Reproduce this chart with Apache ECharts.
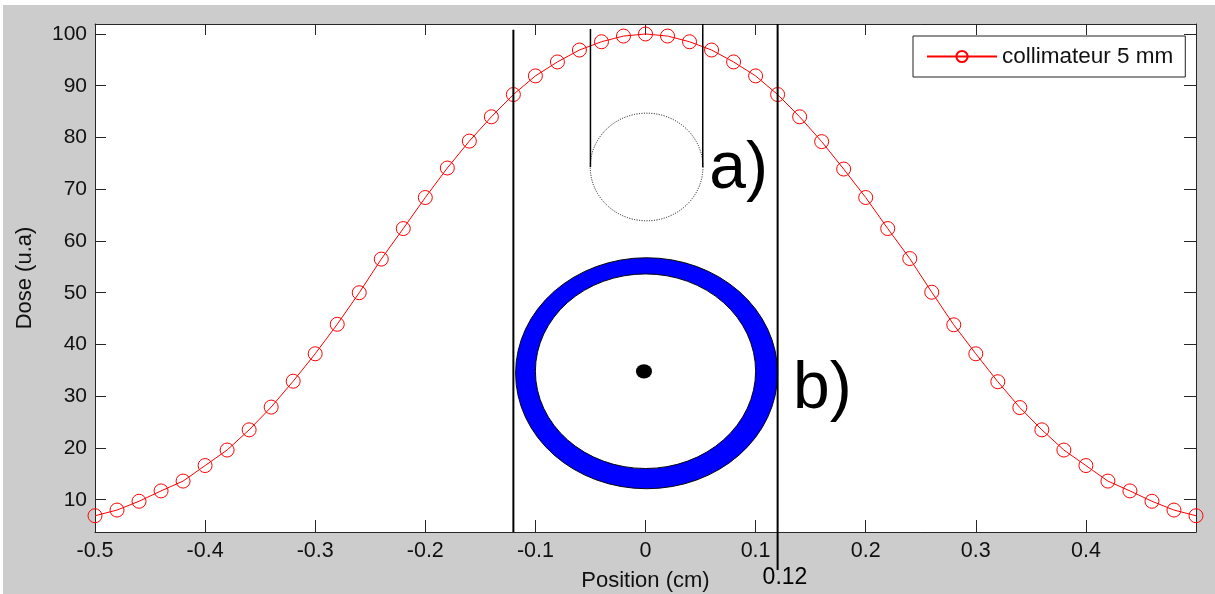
<!DOCTYPE html>
<html><head><meta charset="utf-8">
<script src="https://cdn.jsdelivr.net/npm/echarts@6/dist/echarts.min.js"></script>
<style>
html,body{margin:0;padding:0;background:#fff;}
#bg{position:absolute;left:3px;top:5px;width:1212px;height:589px;background:#cccccc;}
#chart{position:absolute;left:0;top:0;width:1215px;height:594px;}
</style>
</head><body><div id="bg"></div><div id="chart"></div>
<script>
// ---- data ----
const positions = [-0.5,-0.48,-0.46,-0.44,-0.42,-0.4,-0.38,-0.36,-0.34,-0.32,-0.3,-0.28,-0.26,-0.24,-0.22,-0.2,-0.18,-0.16,-0.14,-0.12,-0.1,-0.08,-0.06,-0.04,-0.02,
  0,
  0.02,0.04,0.06,0.08,0.1,0.12,0.14,0.16,0.18,0.2,0.22,0.24,0.26,0.28,0.3,0.32,0.34,0.36,0.38,0.4,0.42,0.44,0.46,0.48,0.5];
const doses = [6.9,8.0,9.7,11.7,13.6,16.6,19.6,23.5,27.9,32.9,38.2,43.9,50.0,56.5,62.4,68.4,74.1,79.3,84.0,88.3,91.9,94.6,96.9,98.5,99.6,
  100,
  99.6,98.5,96.9,94.6,91.9,88.3,84.0,79.2,73.9,68.4,62.4,56.6,50.1,43.8,38.2,32.8,27.8,23.5,19.6,16.6,13.6,11.7,9.7,8.0,6.9];
const xTicks = [-0.5,-0.4,-0.3,-0.2,-0.1,0,0.1,0.2,0.3,0.4];
const yTicks = [10,20,30,40,50,60,70,80,90,100];
const seriesName = 'collimateur 5 mm';
const xName = 'Position (cm)';
const yName = 'Dose (u.a)';
const xRange = [-0.5, 0.5];
const yRange = [3.76, 101.93];
const markedPos = 0.12;

const FONT = '"Liberation Sans", Arial, Helvetica, sans-serif';
const chart = echarts.init(document.getElementById('chart'), null, {renderer: 'canvas'});
const axisLine = {show: true, onZero: false, lineStyle: {color: '#262626', width: 1}};
const fmtX = v => (v === 0 ? '0' : String(Math.round(v * 10) / 10));

const option = {
  animation: false,
  backgroundColor: 'transparent',
  grid: {left: 95, top: 24, width: 1101, height: 508, show: true, backgroundColor: '#fff', borderWidth: 0,
         containLabel: false, outerBoundsMode: 'none'},
  legend: {
    show: true, left: 913, top: 36,
    padding: [9, 12, 9, 13],
    backgroundColor: '#fff', borderColor: '#222', borderWidth: 1,
    itemWidth: 70, itemHeight: 14,
    textStyle: {fontFamily: FONT, fontSize: 22.5, color: '#111'},
    data: [seriesName]
  },
  xAxis: [
    {type: 'value', position: 'bottom', min: xRange[0], max: xRange[1],
     name: xName, nameLocation: 'middle', nameGap: 38,
     nameTextStyle: {fontFamily: FONT, fontSize: 22, color: '#111'},
     axisLine: axisLine, splitLine: {show: false},
     axisTick: {show: true, inside: true, length: 12, customValues: xTicks, lineStyle: {color: '#262626'}},
     axisLabel: {show: true, customValues: xTicks, formatter: fmtX, margin: 8, fontFamily: FONT, fontSize: 21.5, color: '#111'}},
    {type: 'value', position: 'top', min: xRange[0], max: xRange[1],
     axisLine: axisLine, splitLine: {show: false},
     axisTick: {show: true, inside: true, length: 11, customValues: xTicks, lineStyle: {color: '#262626'}},
     axisLabel: {show: false}}
  ],
  yAxis: [
    {type: 'value', position: 'left', min: yRange[0], max: yRange[1],
     name: yName, nameLocation: 'middle', nameGap: 59, nameRotate: 90,
     nameTextStyle: {fontFamily: FONT, fontSize: 22, color: '#111'},
     axisLine: axisLine, splitLine: {show: false},
     axisTick: {show: true, inside: true, length: 11, customValues: yTicks, lineStyle: {color: '#262626'}},
     axisLabel: {show: true, customValues: yTicks, margin: 8, fontFamily: FONT, fontSize: 21, color: '#111'}},
    {type: 'value', position: 'right', min: yRange[0], max: yRange[1],
     axisLine: axisLine, splitLine: {show: false},
     axisTick: {show: true, inside: true, length: 12, customValues: yTicks, lineStyle: {color: '#262626'}},
     axisLabel: {show: false}}
  ],
  series: [{
    name: seriesName, type: 'line', xAxisIndex: 0, yAxisIndex: 0,
    data: positions.map((p, i) => [p, doses[i]]),
    symbol: 'circle', symbolSize: 14,
    lineStyle: {color: '#ff0000', width: 1},
    itemStyle: {color: 'rgba(255,255,255,0)', borderColor: '#ff0000', borderWidth: 1},
    emphasis: {disabled: true}, z: 5
  }]
};
chart.setOption(option);

// ---- annotations (in data units, converted through the axes) ----
const P = (x, y) => chart.convertToPixel({seriesIndex: 0}, [x, y]);
const pxX = dx => P(dx, 50)[0] - P(0, 50)[0];
const pxY = dy => P(0, 0)[1] - P(0, dy)[1];

function line(x1, y1, x2, y2, extra) {
  const a = P(x1, y1), b = P(x2, y2);
  return Object.assign({type: 'line', z: 10, shape: {x1: a[0], y1: a[1], x2: b[0], y2: b[1]},
    style: {stroke: '#000', lineWidth: 2}}, extra || {});
}
function ellipse(cx, cy, rx, ry, style, z) {
  const c = P(cx, cy), r = pxX(rx), s = pxY(ry) / r;
  return {type: 'circle', z: z, x: c[0], y: c[1], scaleY: s, shape: {cx: 0, cy: 0, r: r}, style: style};
}
const g = [];
g.push(line(-markedPos, 100.8, -markedPos, yRange[0]));
g.push(line(markedPos, yRange[1], markedPos, -3.6));
g.push(line(-0.05, 100.97, -0.05, 74.3, {style: {stroke: '#000', lineWidth: 1.5}}));
g.push(line(0.052, yRange[1], 0.052, 74.3, {style: {stroke: '#000', lineWidth: 1.5}}));
g.push(ellipse(0.001, 74.3, 0.0512, 10.4, {fill: 'none', stroke: '#000', lineWidth: 1, lineDash: [1, 1.5]}, 9));
g.push(ellipse(0.001, 34.44, 0.119, 22.32, {fill: '#0000ff', stroke: '#000', lineWidth: 1}, 8));
g.push(ellipse(0.0, 34.83, 0.1, 18.8, {fill: '#fff', stroke: '#000', lineWidth: 1}, 8));
const dot = P(-0.0014, 34.8);
g.push({type: 'circle', z: 9, x: dot[0], y: dot[1], scaleY: 0.9, shape: {cx: 0, cy: 0, r: 8}, style: {fill: '#000'}});
const ta = P(0.058, 69.6), tb = P(0.134, 27.0), tl = P(markedPos, -5.0);
g.push({type: 'text', z: 11, x: ta[0], y: ta[1] - 22, style: {text: 'a)', fontFamily: FONT, fontSize: 66, fill: '#000', verticalAlign: 'middle', align: 'left'}});
g.push({type: 'text', z: 11, x: tb[0], y: tb[1] - 22, style: {text: 'b)', fontFamily: FONT, fontSize: 66, fill: '#000', verticalAlign: 'middle', align: 'left'}});
g.push({type: 'text', z: 11, x: tl[0] - 15, y: tl[1], style: {text: String(markedPos), fontFamily: FONT, fontSize: 23, fill: '#000', verticalAlign: 'middle', align: 'left'}});
chart.setOption({graphic: {elements: g}});
</script>
</body></html>
